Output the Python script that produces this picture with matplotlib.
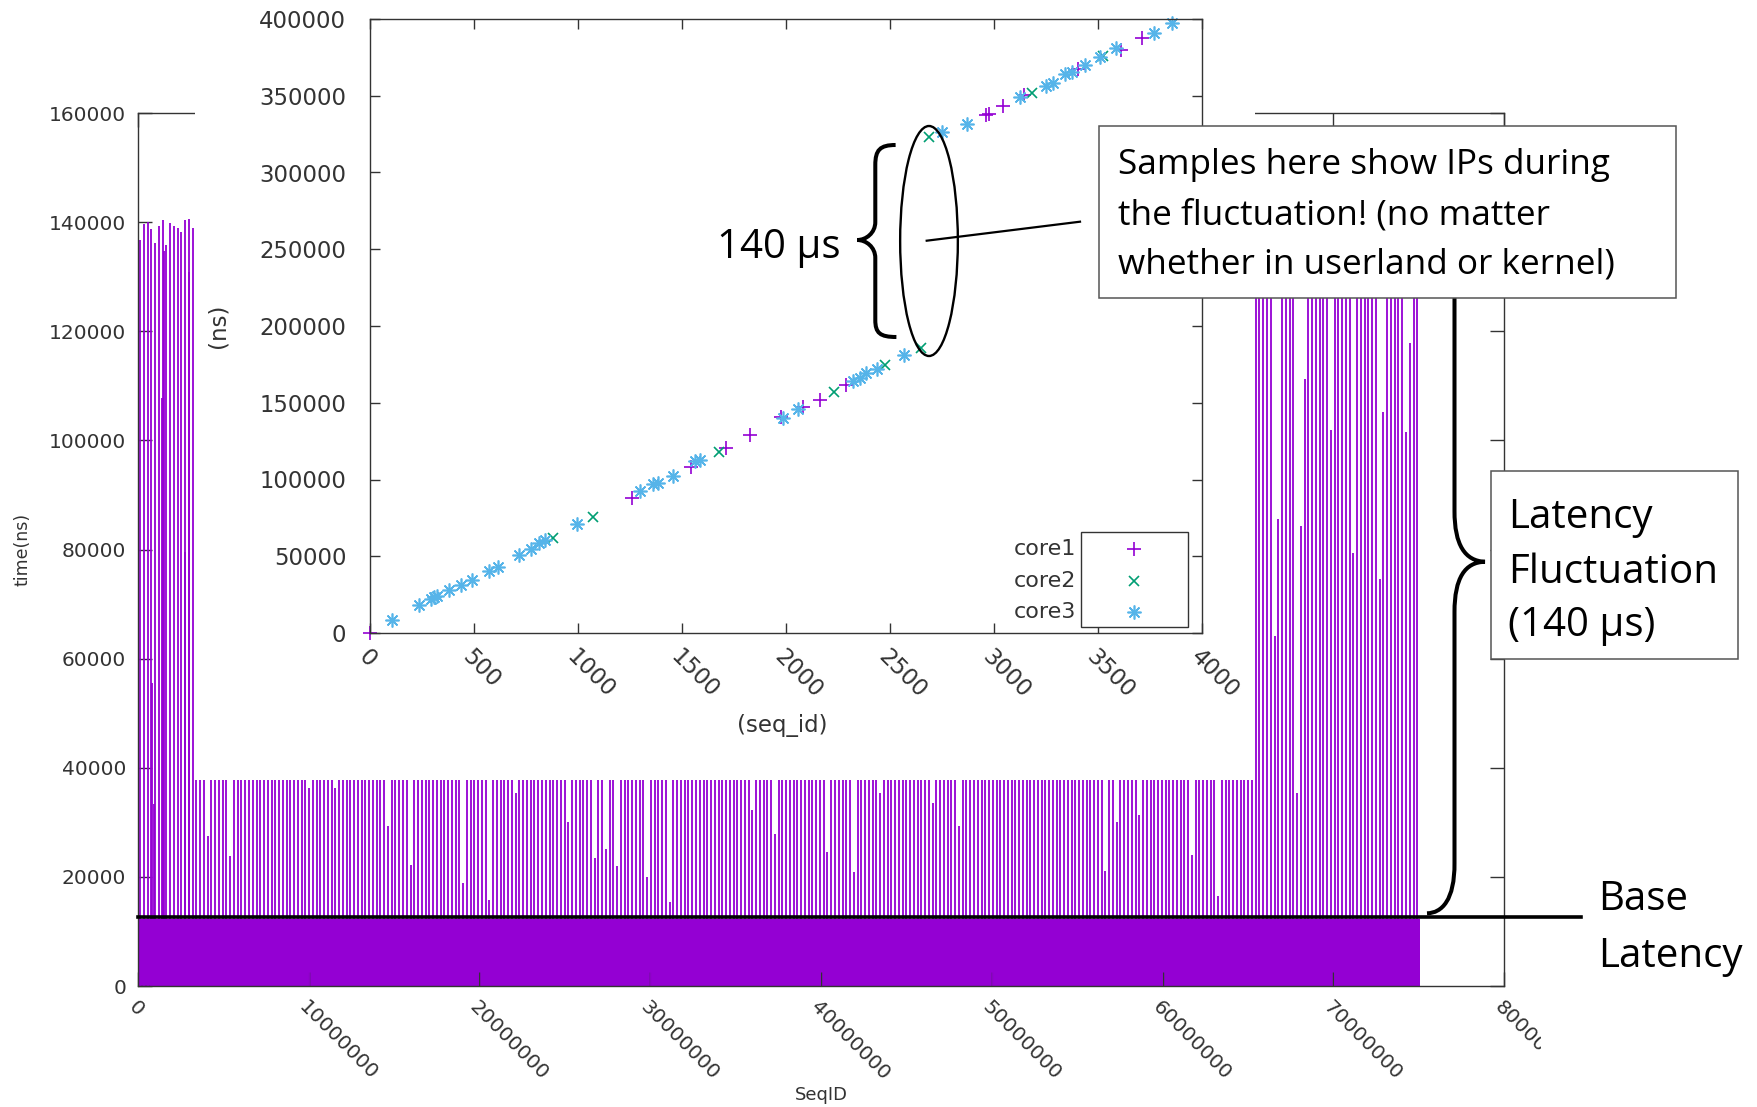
import numpy as np
import matplotlib
matplotlib.use("Agg")
import matplotlib.pyplot as plt
from matplotlib.patches import Rectangle, Ellipse, PathPatch
from matplotlib.path import Path
from matplotlib.lines import Line2D

W, H = 1757, 1107

# main chart: latency of each sampled sequence id
spike_start = 120000
spike_step = 220000
spike_end = 75100000
spike_peak = 139000        # usual height of a fluctuation spike (mostly hidden)
base_level = 12200         # the dense band of base latency
base_latency = 12700       # where the "Base Latency" line sits

# the first samples, left of the inset
first_ns = [136750, 139680, 140000, 138700, 136150, 139200, 140300,
            135850, 139930, 139200, 139000, 138280, 140300, 140600]

# overlapping samples in the first part
extra_ids = [0.84e6, 0.91e6, 1.43e6, 1.54e6, 2.75e6, 2.97e6]
extra_ns = [55500, 33300, 107800, 134750, 79500, 130950]

# samples that stay lower than the usual spike
low_ids = [3.97e6, 5.33e6, 10.12e6, 11.54e6, 14.59e6, 16.03e6, 19.12e6,
           20.52e6, 22.19e6, 25.27e6, 26.68e6, 27.49e6, 27.99e6, 29.80e6,
           31.21e6, 35.95e6, 37.36e6, 40.44e6, 41.87e6, 43.51e6, 46.59e6,
           48.02e6, 56.65e6, 57.24e6, 58.66e6, 61.76e6, 63.19e6,
           66.51e6, 66.71e6, 67.90e6, 68.17e6, 68.37e6, 69.79e6, 71.24e6,
           72.66e6, 72.89e6, 74.32e6, 74.56e6]
low_ns = [27460, 23800, 36250, 36250, 29300, 22150, 18860,
          15800, 35330, 30000, 23430, 25080, 22030, 19950,
          15380, 32280, 27830, 24590, 20810, 35330, 33500,
          29240, 21000, 30080, 31300, 24040, 16530,
          64200, 85670, 35330, 84370, 111330, 101830, 79380,
          74670, 105110, 101520, 117870]

# inset: sample time (ns) per seq_id, by core
core1_x = [0, 1258, 1542, 1710, 1827, 1975, 2080, 2163, 2288, 2959, 2977,
           3044, 3143, 3404, 3608, 3709]
core1_y = [0, 88150, 108350, 120300, 129000, 141000, 147000, 151800, 161370,
           337500, 338100, 343300, 350500, 367200, 379800, 387400]
core2_x = [879, 1074, 1678, 2232, 2475, 2647, 2688, 3180, 3524]
core2_y = [62100, 75370, 118100, 157000, 174400, 185460, 323300, 352000, 375900]
core3_x = [105, 238, 292, 308, 324, 382, 437, 490, 571, 614, 718, 773, 814,
           843, 996, 1298, 1359, 1386, 1455, 1562, 1586, 1984, 2059, 2323,
           2355, 2384, 2435, 2567, 2748, 2871, 3124, 3249, 3281, 3340, 3372,
           3436, 3508, 3585, 3768, 3856]
core3_y = [8470, 18240, 21950, 23240, 24100, 28010, 31270, 34530, 40590,
           43200, 50600, 54900, 58400, 60600, 71000, 92700, 96870, 97900,
           102300, 112000, 112700, 139870, 145700, 163970, 166100, 169180,
           171800, 180900, 326600, 331600, 349000, 356600, 358500, 364200,
           365700, 370000, 375400, 380900, 391100, 397600]

spike_x = np.arange(spike_start, spike_end, spike_step)
spike_h = np.full(len(spike_x), spike_peak, dtype=float)
spike_h[:len(first_ns)] = first_ns
for sid, v in zip(low_ids, low_ns):
    spike_h[int(round((sid - spike_start) / spike_step))] = v

purple = "#9400d3"
green = "#009e73"
cyan = "#56b4e9"
grey = "#333333"


def fp(x, y):
    # reference pixel -> figure fraction
    return (x / W, 1 - y / H)


fig = plt.figure(figsize=(W / 100, H / 100), dpi=100)

# ---------------- main chart ----------------
ax = fig.add_axes([138 / W, 1 - 986 / H, (1504 - 138) / W, (986 - 113) / H])
ax.vlines(spike_x, 0, spike_h, color=purple, lw=1.3)
ax.vlines(extra_ids, 0, extra_ns, color=purple, lw=1.3)
ax.bar(0, base_level, width=spike_end, align="edge", color=purple, lw=0)
ax.set_xlim(0, 8e7)
ax.set_ylim(0, 160000)
xt = np.arange(0, 8e7 + 1, 1e7)
ax.set_xticks(xt)
ax.set_xticklabels([str(int(v)) for v in xt], rotation=-45, ha="left",
                   va="top", rotation_mode="anchor")
yt = np.arange(0, 160001, 20000)
ax.set_yticks(yt)
ax.set_yticklabels([str(int(v)) for v in yt])
ax.tick_params(direction="in", length=10, width=1, top=True, right=True,
               color=grey, labelcolor=grey, labelsize=14.5)
ax.tick_params(axis="y", pad=8.5)
ax.tick_params(axis="x", pad=8)
for s in ax.spines.values():
    s.set_color(grey)
    s.set_linewidth(1)
ax.set_ylabel("time(ns)", fontsize=12.5, color=grey)
ax.yaxis.set_label_coords(-0.078, 0.5)
ax.set_xlabel("SeqID", fontsize=13, color=grey)
ax.xaxis.set_label_coords(0.5, -0.115)

# base latency line
ax.plot([0, 8.45e7], [base_latency, base_latency], color="black", lw=2.6,
        clip_on=False, zorder=5)

# white area of the pasted inset picture
fig.add_artist(Rectangle(fp(195, 780), (1255 - 195) / W, 780 / H,
                         transform=fig.transFigure, facecolor="white",
                         edgecolor="none", zorder=1))
# the picture was cut at the right
fig.add_artist(Rectangle((1541 / W, 0), (W - 1541) / W, 1 - 990 / H,
                         transform=fig.transFigure, facecolor="white",
                         edgecolor="none", zorder=1))

# ---------------- inset ----------------
ins = fig.add_axes([369.8 / W, 1 - 633 / H, 832.5 / W, 614 / H], zorder=2)
ins.set_facecolor("white")
star = (8, 2, 0)
ins.plot(core1_x, core1_y, ls="none", marker="+", ms=9.5, mew=1.2, color=purple,
         clip_on=False)
ins.plot(core2_x, core2_y, ls="none", marker="x", ms=7.5, mew=1.2, color=green,
         clip_on=False)
ins.plot(core3_x, core3_y, ls="none", marker=star, ms=10, mew=1.2, color=cyan,
         clip_on=False)
ins.set_xlim(0, 4000)
ins.set_ylim(0, 400000)
ixt = np.arange(0, 4001, 500)
ins.set_xticks(ixt)
ins.set_xticklabels([str(v) for v in ixt], rotation=-45, ha="left",
                    va="top", rotation_mode="anchor")
iyt = np.arange(0, 400001, 50000)
ins.set_yticks(iyt)
ins.set_yticklabels([str(v) for v in iyt])
ins.tick_params(direction="in", length=7.5, width=1, top=True, right=True,
                color=grey, labelcolor=grey, labelsize=16.4)
ins.tick_params(axis="y", pad=17)
ins.tick_params(axis="x", pad=9)
ins.tick_params(axis="x", which="major")
for s in ins.spines.values():
    s.set_color(grey)
    s.set_linewidth(1)
ins.set_xlabel("(seq_id)", fontsize=16.5, color=grey)
ins.xaxis.set_label_coords(0.495, -0.132)
ins.set_ylabel("(ns)", fontsize=16.5, color=grey)
ins.yaxis.set_label_coords(-0.168, 0.5)

# legend in gnuplot style
ins.add_patch(Rectangle((0.8543, 0.0103), 0.128, 0.1537, transform=ins.transAxes,
                        facecolor="white", edgecolor=grey, lw=1, zorder=4))
leg_rows = [0.1363, 0.0847, 0.0347]
for lab, mk, ms, col, yy in zip(["core1", "core2", "core3"], ["+", "x", star],
                                [9.5, 7.5, 10], [purple, green, cyan], leg_rows):
    ins.plot([0.918], [yy], ls="none", marker=mk, ms=ms, mew=1.2, color=col,
             transform=ins.transAxes, zorder=5, clip_on=False)
    ins.text(0.848, yy, lab, transform=ins.transAxes, ha="right", va="center",
             fontsize=16, color=grey)

# ---------------- annotations ----------------
ann = dict(transform=fig.transFigure, zorder=6)
font = "Open Sans"

# 140 us brace, ellipse and leader line
brace_l = [(895.6, 145), (880, 145), (875.3, 150), (875.3, 165),
           (875.3, 222), (875.3, 222), (875.3, 222),
           (875.3, 233), (866, 240), (857.4, 240),
           (866, 240), (875.3, 247), (875.3, 258),
           (875.3, 320), (875.3, 320), (875.3, 320),
           (875.3, 333), (880, 337), (896.4, 337)]
codes_l = [Path.MOVETO] + [Path.CURVE4] * 18
fig.add_artist(PathPatch(Path([fp(*p) for p in brace_l], codes_l),
                         facecolor="none", edgecolor="black", lw=2.9,
                         capstyle="butt", **ann))
fig.add_artist(Ellipse(fp(929, 241), 57.7 / W, 230 / H, facecolor="none",
                       edgecolor="black", lw=1.7, **ann))
fig.add_artist(Line2D([926.7 / W, 1080 / W], [1 - 240.7 / H, 1 - 221.7 / H],
                      color="black", lw=1.6, **ann))
fig.text(*fp(717.3, 258.3), "140 µs", fontsize=29, family=font, ha="left",
         va="baseline", **ann)

# note box
fig.add_artist(Rectangle(fp(1099.3, 298), (1675.7 - 1099.3) / W, (298 - 126) / H,
                         facecolor="white", edgecolor="#555555", lw=1.1, **ann))
note = ["Samples here show IPs during",
        "the fluctuation! (no matter",
        "whether in userland or kernel)"]
for line, base in zip(note, [174.5, 224.5, 273.5]):
    fig.text(*fp(1118, base), line, fontsize=25.3, family=font, ha="left",
             va="baseline", zorder=7, transform=fig.transFigure)

# fluctuation brace on the right
brace_r = [(1454.5, 290), (1454.5, 400), (1454.5, 400), (1454.5, 511),
           (1454.5, 545), (1465, 561), (1485, 561.8),
           (1465, 562), (1454.5, 578), (1454.5, 612),
           (1454.5, 740), (1454.5, 740), (1454.5, 863),
           (1454.7, 900), (1442, 913), (1427, 913.3)]
codes_r = [Path.MOVETO] + [Path.CURVE4] * 15
fig.add_artist(PathPatch(Path([fp(*p) for p in brace_r], codes_r),
                         facecolor="none", edgecolor="black", lw=2.9,
                         capstyle="butt", zorder=5, transform=fig.transFigure))

fig.add_artist(Rectangle(fp(1491, 659), (1738 - 1491) / W, (659 - 471.4) / H,
                         facecolor="white", edgecolor="#555555", lw=1.1, **ann))
for line, base in zip(["Latency", "Fluctuation", "(140 µs)"],
                      [527.5, 582.9, 635.7]):
    fig.text(*fp(1508.5, base), line, fontsize=29, family=font, ha="left",
             va="baseline", zorder=7, transform=fig.transFigure)

for line, base in zip(["Base", "Latency"], [910, 966.7]):
    fig.text(*fp(1598, base), line, fontsize=29, family=font, ha="left",
             va="baseline", zorder=7, transform=fig.transFigure)

fig.savefig("out.png", dpi=100)
